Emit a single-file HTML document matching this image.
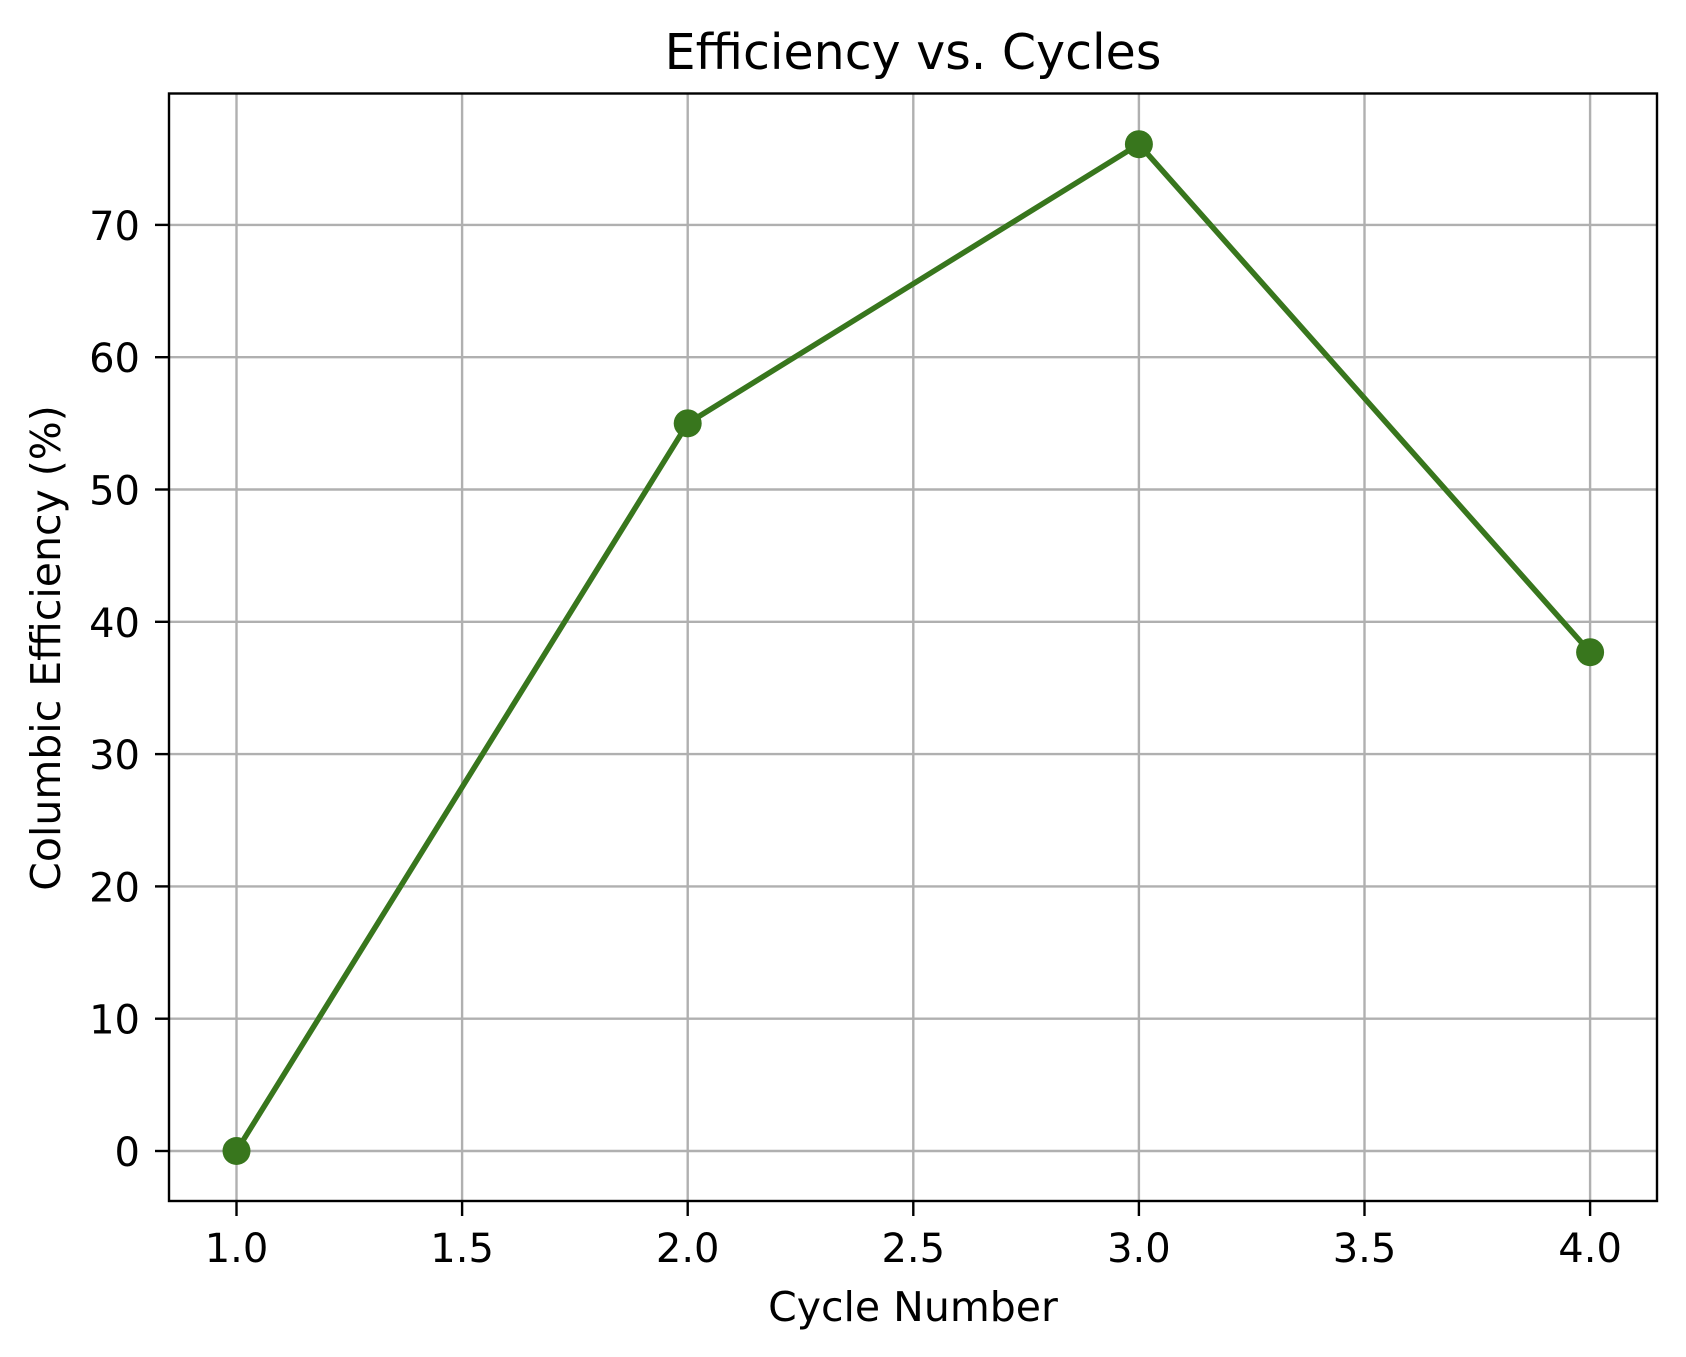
<!DOCTYPE html>
<html><head><meta charset="utf-8"><style>
html,body{margin:0;padding:0;background:#fff;}
svg{display:block;font-family:"DejaVu Sans","Liberation Sans",sans-serif;}
</style></head><body>
<svg id="chart" width="1686" height="1357" viewBox="0 0 1686 1357" xmlns="http://www.w3.org/2000/svg">
<rect width="1686" height="1357" fill="#fff"/>
<g id="grid"></g>
<g id="ticks"></g>
<g id="series"></g>
<rect x="169" y="93.5" width="1488" height="1107.5" fill="none" stroke="#000" stroke-width="2.4"/>
<text x="913" y="69" font-size="49" text-anchor="middle">Efficiency vs. Cycles</text>
<text x="913" y="1321" font-size="41" text-anchor="middle">Cycle Number</text>
<text x="0" y="0" font-size="41" text-anchor="middle" transform="translate(60,648) rotate(-90)">Columbic Efficiency (%)</text>
</svg>
<script>
const cycles=[1,2,3,4];
const efficiency=[0,55,76.1,37.7];
const xTicks=[1.0,1.5,2.0,2.5,3.0,3.5,4.0];
const xTickLabels=["1.0","1.5","2.0","2.5","3.0","3.5","4.0"];
const yTicks=[0,10,20,30,40,50,60,70];
const yTickLabels=["0","10","20","30","40","50","60","70"];
const L=169,R=1657,T=93.5,B=1201;
const x=v=>236.5+(v-1)*451.2;
const y=v=>1151-v*13.23;
const NS="http://www.w3.org/2000/svg";
function mk(tag,attrs,parent){const e=document.createElementNS(NS,tag);for(const k in attrs)e.setAttribute(k,attrs[k]);parent.appendChild(e);return e;}
const grid=document.getElementById('grid'),ticks=document.getElementById('ticks'),series=document.getElementById('series');
xTicks.forEach((v,i)=>{
  const g=mk('line',{x1:x(v),x2:x(v),y1:T,y2:B,stroke:'#b0b0b0','stroke-width':2.4},grid);
  
  
  const t=mk('line',{x1:x(v),x2:x(v),y1:B,y2:B+15,stroke:'#000','stroke-width':2.4},ticks);
  
  
  const l=mk('text',{x:x(v),y:1262,'font-size':40,'text-anchor':'middle'},ticks);
  l.textContent=xTickLabels[i];
  
  
});
yTicks.forEach((v,i)=>{
  const g=mk('line',{x1:L,x2:R,y1:y(v),y2:y(v),stroke:'#b0b0b0','stroke-width':2.4},grid);
  
  
  const t=mk('line',{x1:L-14,x2:L,y1:y(v),y2:y(v),stroke:'#000','stroke-width':2.4},ticks);
  
  
  const l=mk('text',{x:L-29,y:y(v)+15,'font-size':40,'text-anchor':'end'},ticks);
  l.textContent=yTickLabels[i];
  
  
});
const pts=cycles.map((c,i)=>x(c)+','+y(efficiency[i])).join(' ');
const pl=mk('polyline',{points:pts,fill:'none',stroke:'#38761d','stroke-width':5.5,'stroke-linejoin':'round'},series);


cycles.forEach((c,i)=>{
  const m=mk('circle',{cx:x(c),cy:y(efficiency[i]),r:14,fill:'#38761d'},series);
  
  
});
</script>
</body></html>
